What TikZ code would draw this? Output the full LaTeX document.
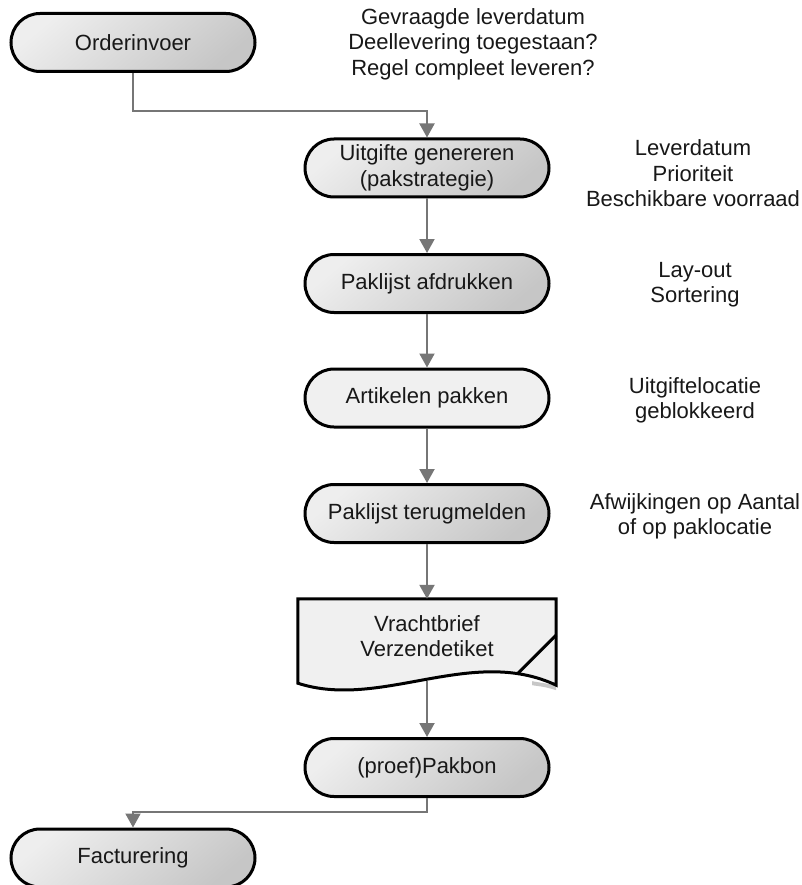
\documentclass[tikz,border=0pt]{standalone}
\usepackage{fontspec}
\setmainfont{Liberation Sans}
\usetikzlibrary{arrows.meta,calc,backgrounds}

\definecolor{boxlight}{RGB}{238,238,238}
\definecolor{boxdark}{RGB}{198,198,198}
\definecolor{palefill}{RGB}{240,240,240}
\definecolor{flowgrey}{RGB}{118,118,118}
\definecolor{ink}{RGB}{24,24,24}

\begin{document}
\begin{tikzpicture}[x=1pt,y=-1pt,
  every node/.style={font=\fontsize{22}{25.5}\selectfont, text=ink},
  stadiumbase/.style={draw=black, line width=3pt, rounded corners=29pt,
    minimum width=244pt, minimum height=58pt, inner sep=0pt, align=center},
  stadium/.style={stadiumbase, top color=boxlight, bottom color=boxdark, shading angle=40},
  stadiumpale/.style={stadiumbase, fill=palefill},
  docframe/.style={minimum width=258pt, minimum height=80pt, inner sep=0pt},
  docline/.style={draw=black, line width=3pt, line join=miter},
  note/.style={align=center, inner sep=0pt},
  flow/.style={draw=flowgrey, line width=2pt, -{Triangle[width=15pt,length=14pt]}}
]
\useasboundingbox (0,0) rectangle (801,885);

% process steps
\node[stadium] (order) at (133,42.5) {Orderinvoer};
\node[stadium] (uitgifte) at (427,168) {Uitgifte genereren\\(pakstrategie)};
\node[stadium] (afdruk) at (427,283.5) {Paklijst afdrukken};
\node[stadiumpale] (pakken) at (427,398) {Artikelen pakken};
\node[stadium] (terug) at (427,513.5) {Paklijst terugmelden};
\node[docframe, label={[note, yshift=3pt]center:Vrachtbrief\\Verzendetiket}] (vracht) at (427,639) {};
\node[stadium] (pakbon) at (427,767.5) {(proef)Pakbon};
\node[stadium] (fact) at (133,858) {Facturering};

% side notes
\node[note] (n0) at (473,44) {Gevraagde leverdatum\\Deellevering toegestaan?\\Regel compleet leveren?};
\node[note] (n1) at (693,173.4) {Leverdatum\\Prioriteit\\Beschikbare voorraad};
\node[note] (n2) at (695,284.7) {Lay-out\\Sortering};
\node[note] (n3) at (695,400.5) {Uitgiftelocatie\\geblokkeerd};
\node[note] (n4) at (695,516.5) {Afwijkingen op Aantal\\of op paklocatie};

% flow connectors
\draw[flow] (order.south) -- ++(0,38) -| (uitgifte.north);
\draw[flow] (uitgifte.south) -- (afdruk.north);
\draw[flow] (afdruk.south) -- (pakken.north);
\draw[flow] (pakken.south) -- (terug.north);
\draw[flow] (terug.south) -- (vracht.north);
\draw[flow, shorten <=1.5pt] (vracht.south) -- (pakbon.north);
\draw[flow] (pakbon.south) -- ++(0,14) -| (fact.north);

% document shape (wavy bottom, folded corner) behind its text
\begin{pgfonlayer}{background}
\fill[white] (0,0) rectangle (801,885);
\fill[black!22] ($(vracht.south east)+(-24,2)$) .. controls ($(vracht.south east)+(-12,4)$) .. ($(vracht.south east)+(0,6)$)
  -- ($(vracht.south east)+(0,11)$) .. controls ($(vracht.south east)+(-10,8)$) .. ($(vracht.south east)+(-24,6)$) -- cycle;
\draw[docline, fill=palefill] (vracht.north west) -- (vracht.north east)
  -- ($(vracht.south east)+(0,6)$)
  .. controls ($(vracht.south east)+(-85,-34)$) and ($(vracht.south west)+(83,31)$) ..
  ($(vracht.south west)+(0,4)$) -- cycle;
\draw[docline] ($(vracht.east)+(0,-4)$) -- ($(vracht.south east)+(-38.6,-5.6)$);
\end{pgfonlayer}
\end{tikzpicture}
\end{document}
